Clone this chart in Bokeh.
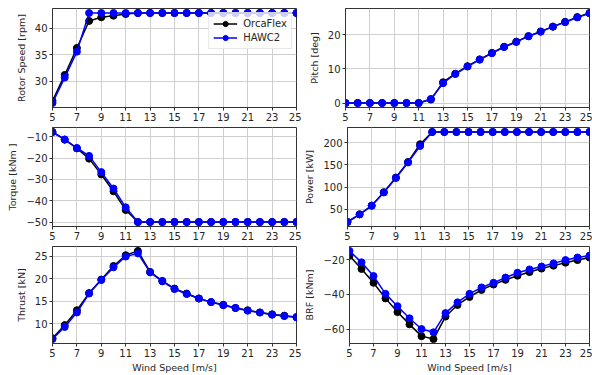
from bokeh.plotting import figure
from bokeh.layouts import column, row
from bokeh.models import Range1d, FixedTicker, CustomJSTickFormatter, Legend, LegendItem
from bokeh.embed import file_html
from bokeh.resources import INLINE

wind = [5, 6, 7, 8, 9, 10, 11, 12, 13, 14, 15, 16, 17, 18, 19, 20, 21, 22, 23, 24, 25]
x_ticks = [5, 7, 9, 11, 13, 15, 17, 19, 21, 23, 25]

rotor_orca = [26.3, 31.2, 36.3, 41.4, 42.1, 42.4, 42.7, 42.9, 42.9, 42.9, 42.9, 42.9, 42.9, 42.9,
              42.9, 42.9, 42.9, 42.9, 42.9, 42.9, 42.9]
rotor_hawc = [25.9, 30.7, 35.6, 42.9, 42.9, 42.9, 42.9, 42.9, 42.9, 42.9, 42.9, 42.9, 42.9, 42.9,
              42.9, 42.9, 42.9, 42.9, 42.9, 42.9, 42.9]
rotor_ticks = [30, 35, 40]

pitch_orca = [0, 0, 0, 0, 0, 0, 0, 1.0, 6.1, 8.6, 10.8, 12.8, 14.7, 16.5, 18.0, 19.6, 21.0, 22.4,
              23.8, 25.2, 26.4]
pitch_hawc = [0, 0, 0, 0, 0, 0, 0, 1.2, 5.8, 8.5, 10.7, 12.7, 14.6, 16.4, 17.9, 19.6, 20.9, 22.4,
              23.7, 25.1, 26.3]
pitch_ticks = [0, 10, 20]

torque_orca = [-7.8, -11.4, -15.5, -20.3, -27.7, -35.6, -44.4, -50, -50, -50, -50, -50, -50, -50,
               -50, -50, -50, -50, -50, -50, -50]
torque_hawc = [-7.8, -11.3, -15.3, -19.0, -26.6, -34.3, -43.1, -50, -50, -50, -50, -50, -50, -50,
               -50, -50, -50, -50, -50, -50, -50]
torque_ticks = [-10, -20, -30, -40, -50]

power_orca = [21.5, 38.8, 58.5, 88.5, 121.5, 156.5, 196.5, 224, 224, 224, 224, 224, 224, 224,
              224, 224, 224, 224, 224, 224, 224]
power_hawc = [21.5, 38.5, 58.0, 88.0, 120.5, 155.5, 192.5, 224, 224, 224, 224, 224, 224, 224,
              224, 224, 224, 224, 224, 224, 224]
power_ticks = [50, 100, 150, 200]

thrust_orca = [6.8, 9.7, 13.0, 16.8, 19.8, 22.8, 25.2, 26.15, 21.5, 19.5, 17.8, 16.7, 15.6, 14.8,
               14.2, 13.5, 13.0, 12.5, 12.1, 11.8, 11.5]
thrust_hawc = [6.6, 9.3, 12.5, 16.7, 19.7, 22.5, 24.9, 25.6, 21.4, 19.4, 17.7, 16.6, 15.6, 14.8,
               14.1, 13.5, 12.9, 12.5, 12.0, 11.7, 11.4]
thrust_ticks = [10, 15, 20, 25]

brf_orca = [-17.7, -25.3, -33.3, -42.3, -50.2, -57.3, -64.1, -65.8, -52.8, -46.1, -41.5, -37.4,
            -34.3, -31.6, -29.2, -27.1, -25.1, -23.4, -21.7, -20.2, -18.7]
brf_hawc = [-14.9, -21.5, -29.4, -39.7, -46.8, -53.8, -60.0, -61.9, -50.8, -44.6, -39.7, -36.0,
            -33.3, -30.3, -27.5, -25.6, -23.9, -22.1, -20.2, -18.7, -17.6]
brf_ticks = [-20, -40, -60]

TXT = "#262626"
FONT = "DejaVu Sans"
minus_fmt = "return tick.toString().replace('-', '\u2212');"


def panel(ylabel, orca, hawc, yticks, is_left, row_idx, with_legend=False):
    lo = min(orca + hawc)
    hi = max(orca + hawc)
    pad = 0.05 * (hi - lo)
    frame_h = 99
    top_b = 8 if row_idx == 0 else 0
    bot_b = 30 if row_idx == 2 else 20
    if is_left:
        w, bl, br = 301, 52, 5
    else:
        w, bl, br = 291, 44, 3
    p = figure(width=w, height=top_b + frame_h + bot_b,
               x_range=Range1d(5, 25), y_range=Range1d(lo - pad, hi + pad),
               output_backend="svg", toolbar_location=None,
               min_border_left=bl, min_border_right=br,
               min_border_top=top_b, min_border_bottom=bot_b)
    p.background_fill_color = "white"
    p.border_fill_color = "white"
    p.outline_line_color = "#333333"
    p.outline_line_width = 1

    p.xaxis.ticker = FixedTicker(ticks=x_ticks)
    p.yaxis.ticker = FixedTicker(ticks=yticks)
    p.yaxis.formatter = CustomJSTickFormatter(code=minus_fmt)
    for ax in (p.xaxis[0], p.yaxis[0]):
        ax.axis_line_color = "#333333"
        ax.major_tick_line_color = "#333333"
        ax.major_tick_out = 3
        ax.major_tick_in = 0
        ax.minor_tick_line_color = None
        ax.major_label_text_font = FONT
        ax.major_label_text_font_size = "10px"
        ax.major_label_text_color = TXT
        ax.major_label_standoff = 2
        ax.axis_label_text_font = FONT
        ax.axis_label_text_font_size = "9.5px"
        ax.axis_label_text_font_style = "normal"
        ax.axis_label_text_color = TXT
        ax.axis_label_standoff = 5
    p.yaxis.axis_label = ylabel
    if row_idx == 2:
        p.xaxis.axis_label = "Wind Speed [m/s]"
        p.xaxis.axis_label_standoff = 2
    for g in (p.xgrid[0], p.ygrid[0]):
        g.grid_line_color = "#cfcfcf"
        g.grid_line_width = 1
    p.xgrid.ticker = FixedTicker(ticks=x_ticks)
    p.ygrid.ticker = FixedTicker(ticks=yticks)

    l1 = p.line(wind, orca, line_color="black", line_width=1.5)
    s1 = p.scatter(wind, orca, size=7, fill_color="black", line_color="black")
    l2 = p.line(wind, hawc, line_color="blue", line_width=1.5)
    s2 = p.scatter(wind, hawc, size=7, fill_color="blue", line_color="blue")

    if with_legend:
        leg = Legend(items=[LegendItem(label="OrcaFlex", renderers=[l1, s1]),
                            LegendItem(label="HAWC2", renderers=[l2, s2])],
                     location="top_right")
        leg.margin = 4
        leg.padding = 4
        leg.spacing = 1
        leg.glyph_width = 24
        leg.glyph_height = 13
        leg.label_height = 13
        leg.label_standoff = 6
        leg.label_text_font = FONT
        leg.label_text_font_size = "10px"
        leg.label_text_color = TXT
        leg.border_line_color = "#d0d0d0"
        leg.background_fill_alpha = 0.8
        p.add_layout(leg)
    return p


p1 = panel("Rotor Speed [rpm]", rotor_orca, rotor_hawc, rotor_ticks, True, 0, True)
p2 = panel("Pitch [deg]", pitch_orca, pitch_hawc, pitch_ticks, False, 0)
p3 = panel("Torque [kNm ]", torque_orca, torque_hawc, torque_ticks, True, 1)
p4 = panel("Power [kW]", power_orca, power_hawc, power_ticks, False, 1)
p5 = panel("Thrust [kN]", thrust_orca, thrust_hawc, thrust_ticks, True, 2)
p6 = panel("BRF [kNm]", brf_orca, brf_hawc, brf_ticks, False, 2)

layout = column(row(p1, p2, spacing=0), row(p3, p4, spacing=0), row(p5, p6, spacing=0), spacing=0)

open("out.html", "w").write(file_html(layout, INLINE))
